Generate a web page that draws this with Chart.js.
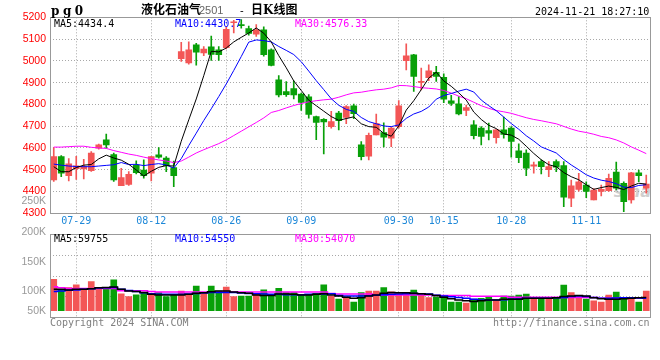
<!DOCTYPE html>
<html><head><meta charset="utf-8">
<script src="https://cdn.jsdelivr.net/npm/chart.js@4/dist/chart.umd.min.js"></script>
<style>
html,body{margin:0;padding:0;background:#fff;}
#wrap{position:relative;width:660px;height:360px;overflow:hidden;background:#fff;}
canvas{position:absolute;left:0;z-index:1;}
.t{position:absolute;white-space:nowrap;z-index:3;font-family:"DejaVu Sans Mono",monospace;font-size:10px;line-height:10px;}
.cjk{font-family:"Noto Sans CJK SC",sans-serif;font-size:12px;line-height:12px;}
.vl{position:absolute;z-index:3;right:614px;white-space:nowrap;font-family:'Liberation Sans',sans-serif;font-size:10.5px;line-height:12px;color:#999;}
</style></head><body>
<div id="wrap">
  <div style="position:absolute;left:560px;top:178px;width:90px;height:32px;overflow:hidden;z-index:0;">
    <div style="position:absolute;right:-1px;top:4px;font:italic bold 16px 'DejaVu Sans';color:#cfcfcf;">sina</div>
  </div>
  <canvas id="k" width="660" height="230" style="top:0"></canvas>
  <canvas id="v" width="660" height="105" style="top:220px"></canvas>

  <div class="t" style="left:51px;top:5px;font:bold 12px 'DejaVu Serif';line-height:12px;letter-spacing:3.5px;">pg0</div>
  <div class="t cjk" style="left:141px;top:3px;font-weight:bold;">液化石油气</div>
  <div class="t" style="left:199px;top:5px;font:11px 'Liberation Sans';line-height:11px;color:#666;">2501</div>
  <div class="t" style="left:240px;top:5px;font:11px 'Liberation Sans';line-height:11px;color:#000;">-</div>
  <div class="t cjk" style="left:251px;top:3px;font-weight:bold;">日<b style="font-family:'DejaVu Serif'">K</b>线图</div>
  <div class="t" style="left:535px;top:6.5px;color:#000;">2024-11-21 18:27:10</div>

  <div class="t" style="left:54px;top:19px;color:#000;">MA5:4434.4</div>
  <div class="t" style="left:175px;top:19px;color:#0000ff;">MA10:4430.7</div>
  <div class="t" style="left:295px;top:19px;color:#ff00ff;">MA30:4576.33</div>

  <div class="vl" style="top:194px;">250K</div>
  <div class="vl" style="top:225px;">200K</div>
  <div class="vl" style="top:255px;">150K</div>
  <div class="vl" style="top:284px;">100K</div>
  <div class="vl" style="top:304px;">50K</div>

  <div class="t" style="left:54px;top:233.5px;color:#000;">MA5:59755</div>
  <div class="t" style="left:175px;top:233.5px;color:#0000ff;">MA10:54550</div>
  <div class="t" style="left:295px;top:233.5px;color:#ff00ff;">MA30:54070</div>

  <div class="t" style="left:50px;top:317.5px;color:#808080;">Copyright 2024 SINA.COM</div>
  <div class="t" style="left:493px;top:317.5px;color:#808080;">http://finance.sina.com.cn</div>
</div>
<script>
const dates = ['07-24','07-25','07-26','07-29','07-30','07-31',
 '08-01','08-02','08-05','08-06','08-07','08-08','08-09','08-12','08-13','08-14','08-15','08-16','08-19','08-20','08-21','08-22','08-23','08-26','08-27','08-28','08-29','08-30',
 '09-02','09-03','09-04','09-05','09-06','09-09','09-10','09-11','09-12','09-13','09-18','09-19','09-20','09-23','09-24','09-25','09-26','09-27','09-30',
 '10-08','10-09','10-10','10-11','10-14','10-15','10-16','10-17','10-18','10-21','10-22','10-23','10-24','10-25','10-28','10-29','10-30','10-31',
 '11-01','11-04','11-05','11-06','11-07','11-08','11-11','11-12','11-13','11-14','11-15','11-18','11-19','11-20','11-21'];
const tickDates = ['07-29','08-12','08-26','09-09','09-30','10-15','10-28','11-11'];

const opens = [4453,4560,4473,4505,4504,4496,4599,4637,4570,4427, 4433,4521,4499,4484,4568,4553,4510,5010,4990,5074,
 5036,5064,5051,5060,5175,5167,5148,5123,5143,5051, 4913,4859,4873,4848,4835,4744,4732,4698,4760,4740,
 4793,4614,4562,4660,4671,4645,4698,5001,5028,4901, 4923,4947,4924,4817,4803,4772,4706,4691,4680,4647,
 4683,4691,4587,4576,4516,4537,4500,4537,4519,4370, 4410,4430,4361,4400,4404,4489,4438,4361,4486,4415];
const highs = [4602,4565,4551,4562,4548,4583,4618,4664,4576,4507, 4491,4541,4545,4562,4602,4560,4540,5085,5087,5080,
 5066,5114,5066,5155,5186,5190,5160,5166,5156,5055, 4932,4905,4908,4852,4845,4746,4735,4768,4768,4795,
 4802,4629,4668,4756,4715,4696,4818,5078,5030,4967, 4982,4975,4940,4842,4836,4797,4726,4698,4714,4685,
 4742,4698,4619,4591,4535,4545,4537,4545,4537,4452, 4484,4445,4414,4430,4480,4535,4445,4488,4499,4476];
const lows = [4446,4468,4449,4455,4458,4492,4594,4598,4446,4427, 4428,4481,4461,4449,4553,4491,4422,4997,4985,4980,
 5024,5002,5002,5055,5128,5150,5118,5112,5021,4977, 4834,4837,4825,4772,4737,4638,4573,4691,4683,4712,
 4735,4545,4545,4660,4605,4606,4691,4958,4860,4867, 4909,4905,4808,4795,4752,4748,4641,4614,4637,4622,
 4645,4558,4533,4473,4484,4481,4468,4491,4331,4331, 4402,4372,4361,4380,4400,4407,4308,4346,4445,4393];
const closes = [4561,4484,4527,4518,4515,4576,4614,4614,4453,4464, 4479,4487,4473,4560,4558,4519,4473,5043,5051,5040,
 5054,5030,5028,5145,5178,5161,5126,5143,5028,4979, 4844,4845,4844,4809,4754,4717,4720,4721,4725,4790,
 4757,4560,4658,4712,4650,4691,4794,5023,4928,4905, 4954,4928,4824,4805,4756,4786,4656,4653,4668,4683,
 4662,4630,4556,4507,4522,4514,4514,4512,4374,4426, 4444,4401,4407,4410,4461,4415,4353,4486,4473,4434];

const ma5 = [4514,4491,4491,4510,4521,4524,4550,4567,4554,4544, 4525,4499,4471,4493,4511,4519,4517,4631,4729,4825,
 4932,5044,5041,5059,5087,5108,5128,5151,5127,5087, 5024,4968,4908,4864,4819,4794,4769,4744,4727,4735,
 4743,4711,4698,4695,4667,4654,4701,4774,4817,4868, 4921,4948,4908,4883,4853,4820,4765,4731,4704,4689,
 4664,4659,4640,4608,4575,4546,4523,4514,4487,4468, 4454,4431,4410,4418,4425,4419,4409,4425,4438,4434];
const ma10 = [4526,4521,4517,4515,4514,4514,4517,4520,4523,4533, 4524,4525,4519,4524,4528,4522,4508,4551,4611,4668,
 4726,4780,4836,4894,4956,5020,5086,5096,5093,5087, 5066,5048,5029,4996,4953,4909,4868,4826,4796,4777,
 4768,4740,4721,4711,4701,4698,4706,4736,4756,4768, 4788,4824,4841,4850,4861,4870,4857,4820,4794,4771,
 4742,4712,4686,4656,4632,4605,4591,4577,4547,4522, 4500,4477,4462,4452,4446,4436,4420,4418,4428,4431];
const ma30 = [4604,4604,4606,4608,4608,4603,4600,4598,4588,4580, 4572,4566,4558,4551,4545,4540,4533,4540,4558,4577,
 4592,4606,4620,4637,4657,4677,4697,4717,4738,4763, 4772,4784,4795,4804,4812,4817,4821,4824,4833,4844,
 4853,4856,4862,4867,4870,4876,4887,4886,4882,4877, 4874,4871,4864,4852,4838,4826,4810,4794,4782,4772,
 4766,4759,4749,4739,4731,4725,4718,4711,4699,4687, 4677,4671,4663,4653,4647,4637,4623,4605,4590,4574];

const priceMin = 4300, priceMax = 5200, priceStep = 100;

// volume panel (values in axis units "K")
const vols = [119,101,104,109,101,115,103,104,118,93, 88,91,94,93,95,88,91,98,91,107,
 95,107,98,105,88,89,89,94,100,92, 103,95,95,92,91,94,109,89,83.5,86.5,
 78,95,98,98,104,96.5,93.5,93.5,99.5,92.5, 86,87.5,89,78,78,76.5,83.5,85,86.5,80.5,
 89,89,90.5,92.5,86.5,83.5,85,86.5,108.5,95, 89,83.5,80.5,78,90.5,96,86.5,86.5,78,98];
const volMa5 = [101,101,100,101,101,102,104,104.5,105,101, 98,97,95.5,92,91,91,91,91,92,94,
 95,96.5,98,98,96,95,94,91,90,90, 92.5,92.5,92,91,91,92,93,91,89,87,
 85,86,89,91,94,95.5,95,95,94,93, 92,90,87,84,82,80.5,79,80.5,82,82,
 83,83,83,85,85,85,85,86,88,89, 90,89,86,84,83,83,84,85,86,86.5];
const volMa10 = [97,98,99.5,100,101,102,103.5,104,104.5,101, 99,97,95,93,92,92,92,92,92.5,93.5,
 94.5,95.5,95.5,95.5,95.5,94.5,93.5,93,92.5,92, 92,91.5,91.5,91.5,92,92,92.5,93,90,89,
 89,89,89.5,90.5,91.5,92,92.5,93,93.5,93, 92.5,90.5,89,87.5,86.5,85,83,82,82,82,
 82.5,83,83.5,85,85,85,85,86,86.5,88, 89,88,86.5,85,85,85.5,86,86,85.5,85];
const volMa30 = [105.5,104,102.5,102.5,102.5,102.5,102.5,102.5,102.5,98.5, 98.5,98.5,98.5,97,96,96,96,96,96,96,
 96,96,96,96,96,96,96,96,96,96, 96,96,96,96,96,96,96,93.5,92.5,92.5,
 92.5,92.5,92.5,91,91,91,91,91,91,91, 91,90,90,90,90,90,88.5,88.5,88.5,88.5,
 88.5,87,87,87,87,87,87,87,86.5,86.5, 86.5,86.5,86.5,85,85,85,85,85,85,85];
const volMin = 50, volMax = 200, volBase = 62.5;

const RED = '#f35656', GREEN = '#08a008', GRID = '#a8a8a8', FRAME = '#999';
const colors = closes.map((c,i) => c >= opens[i] ? RED : GREEN);

const frame = { id:'frame', afterDraw(c){ const a=c.chartArea, x=c.ctx; x.save(); x.strokeStyle=FRAME; x.lineWidth=1;
  x.strokeRect(Math.floor(a.left)+0.5, Math.floor(a.top)+0.5, Math.round(a.right-a.left), Math.round(a.bottom-a.top)); x.restore(); } };
const keepTicks = s => { s.ticks = s.ticks.filter(t => tickDates.includes(dates[t.value])); };
const lineDs = (d,col,w,extra) => Object.assign({type:'line', data:d, borderColor:col, borderWidth:w, pointRadius:0, tension:0, order:0}, extra||{});

new Chart(document.getElementById('k'), {
  type:'bar',
  data:{ labels:dates, datasets:[
    lineDs(ma5,'#000000',1), lineDs(ma10,'#0000ff',1), lineDs(ma30,'#ff00ff',1),
    { data: opens.map((o,i)=>[o,closes[i]]), backgroundColor:colors, barThickness:6, minBarLength:1, grouped:false, order:1 },
    { data: lows.map((l,i)=>[l,highs[i]]), backgroundColor:colors, barThickness:1, grouped:false, order:2 }
  ]},
  options:{ responsive:false, animation:false, events:[],
    layout:{ padding:{ left:0, right:10, top:17.3, bottom:0 } },
    plugins:{ legend:{display:false}, tooltip:{enabled:false} },
    scales:{
      x:{ offset:true, grid:{ offset:false, color:GRID, drawTicks:false }, border:{ display:false, dash:[1,2] },
          afterBuildTicks:keepTicks,
          ticks:{ autoSkip:false, maxRotation:0, padding:2, color:'#1e88d8', font:{ family:'DejaVu Sans Mono', size:10 }, callback:v=>dates[v] },
          afterFit:s=>{ s.height = 16.7; } },
      y:{ min:priceMin, max:priceMax,
          ticks:{ stepSize:priceStep, autoSkip:false, color:'#ff0000', padding:4, font:{ family:'Liberation Sans', size:10.5 }, callback:v=>String(v) },
          grid:{ color:GRID, drawTicks:false }, border:{ display:false, dash:[1,2] },
          afterFit:s=>{ s.width = 50; } }
    }
  },
  plugins:[frame]
});

new Chart(document.getElementById('v'), {
  type:'bar',
  data:{ labels:dates, datasets:[
    lineDs(volMa5,'#000000',1.5,{stepped:'middle'}), lineDs(volMa10,'#0000ff',1.5,{stepped:'middle'}), lineDs(volMa30,'#ff00ff',1.5,{stepped:'middle'}),
    { data:vols, backgroundColor:colors, barThickness:6, base:volBase, order:1 }
  ]},
  options:{ responsive:false, animation:false, events:[],
    layout:{ padding:{ left:0, right:10, top:14.3, bottom:0 } },
    plugins:{ legend:{display:false}, tooltip:{enabled:false} },
    scales:{
      x:{ offset:true, grid:{ offset:false, color:GRID, drawTicks:false }, border:{ display:false, dash:[1,2] },
          afterBuildTicks:keepTicks, ticks:{ display:false }, afterFit:s=>{ s.height = 7.3; } },
      y:{ min:volMin, max:volMax, ticks:{ display:false }, grid:{ display:false }, border:{ display:false },
          afterFit:s=>{ s.width = 50; } },
      yg:{ position:'right', min:0, max:4, ticks:{ display:false, stepSize:1 },
          grid:{ color:GRID, drawTicks:false }, border:{ display:false, dash:[1,2] }, afterFit:s=>{ s.width = 0; } }
    }
  },
  plugins:[frame]
});
</script>
</body></html>
